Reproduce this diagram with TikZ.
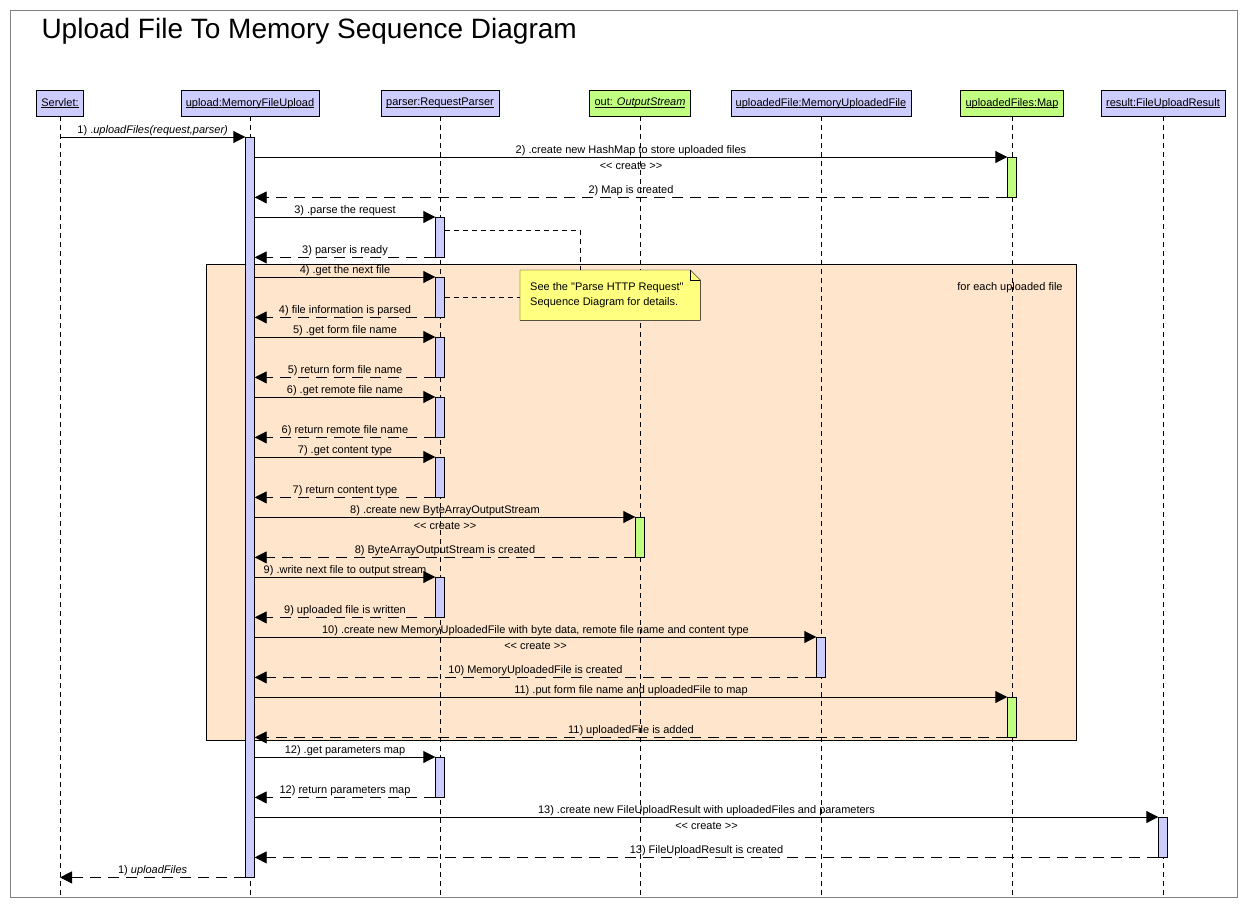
\documentclass[tikz,border=0pt]{standalone}
\usepackage{fontspec}
\setmainfont{Liberation Sans}[Ligatures=TeXOff]
\usetikzlibrary{arrows.meta, calc}

\definecolor{lav}{RGB}{204,204,255}
\definecolor{lime}{RGB}{192,255,128}
\definecolor{peach}{RGB}{255,229,204}
\definecolor{notey}{RGB}{255,255,128}

\newcommand\ulin[1]{\setbox0\hbox{#1}\rlap{\rule[-1.8pt]{\wd0}{0.6pt}}\box0}

\begin{document}
\begin{tikzpicture}[x=1pt, y=-1pt, >={Triangle[length=12pt,width=12pt]},
                    font=\fontsize{11}{13}\selectfont]
\tikzset{
  head/.style={draw, fill=lav, minimum height=26pt, inner xsep=5pt, anchor=north},
  bar/.style={draw, fill=lav, minimum width=9pt, minimum height=40pt,
              inner sep=0pt, anchor=north},
  life/.style={dash pattern=on 5pt off 4pt},
  msg/.style={->, line width=0.9pt},
  ret/.style={->, line width=0.9pt, dash pattern=on 11pt off 7pt},
  lbl/.style={midway, above=0pt, inner sep=1pt},
  crt/.style={midway, below=4pt, inner sep=1pt}
  };

\useasboundingbox (0,0) rectangle (1247,907);
\draw[gray] (10,10) rectangle (1237,897);
\node[anchor=west, font=\fontsize{28}{32}\selectfont] (title) at (38,31)
  {Upload File To Memory Sequence Diagram};

\node[draw, fill=peach, minimum width=870pt, minimum height=476pt,
      anchor=north west] (loop) at (206,264) {};
\node (looplbl) at (1010,288) {for each uploaded file};

\node[head] (servlet) at (60,90)   {\ulin{Servlet:}};
\node[head] (upload)  at (250,90)  {\ulin{upload:MemoryFileUpload}};
\node[head] (parser)  at (440,90)  {\ulin{parser:RequestParser}};
\node[head, fill=lime] (out) at (640,90) {\ulin{out: \textit{OutputStream}}};
\node[head] (ufile)   at (821,90)  {\ulin{uploadedFile:MemoryUploadedFile}};
\node[head, fill=lime] (fmap) at (1012,90) {\ulin{uploadedFiles:Map}};
\node[head] (result)  at (1163,90) {\ulin{result:FileUploadResult}};

\coordinate (bot) at (0,895);
\draw[life] (servlet.south) -- (servlet.south |- bot);
\draw[life] (upload.south)  -- (upload.south |- bot);
\draw[life] (parser.south)  -- (parser.south |- bot);
\draw[life] (out.south)     -- (out.south |- bot);
\draw[life] (ufile.south)   -- (ufile.south |- bot);
\draw[life] (fmap.south)    -- (fmap.south |- bot);
\draw[life] (result.south)  -- (result.south |- bot);

\node[bar, minimum height=740pt] (uact) at (250,137) {};
\node[bar, fill=lime] (m2)  at (1012,157) {};
\node[bar] (p3)  at (440,217) {};
\node[bar] (p4)  at (440,277) {};
\node[bar] (p5)  at (440,337) {};
\node[bar] (p6)  at (440,397) {};
\node[bar] (p7)  at (440,457) {};
\node[bar, fill=lime] (o8) at (640,517) {};
\node[bar] (p9)  at (440,577) {};
\node[bar] (f10) at (821,637) {};
\node[bar, fill=lime] (m11) at (1012,697) {};
\node[bar] (p12) at (440,757) {};
\node[bar] (r13) at (1163,817) {};

\draw[msg] (servlet |- uact.north) -- (uact.north west)
  node[lbl]{1) .\textit{uploadFiles(request,parser)}};

\draw[msg] (uact.east |- m2.north) -- (m2.north west)
  node[lbl]{2) .create new HashMap to store uploaded files} node[crt]{<< create >>};
\draw[ret] (m2.south west) -- (uact.east |- m2.south) node[lbl]{2) Map is created};

\draw[msg] (uact.east |- p3.north) -- (p3.north west) node[lbl]{3) .parse the request};
\draw[ret] (p3.south west) -- (uact.east |- p3.south) node[lbl]{3) parser is ready};

\draw[msg] (uact.east |- p4.north) -- (p4.north west) node[lbl]{4) .get the next file};
\draw[ret] (p4.south west) -- (uact.east |- p4.south) node[lbl]{4) file information is parsed};

\draw[msg] (uact.east |- p5.north) -- (p5.north west) node[lbl]{5) .get form file name};
\draw[ret] (p5.south west) -- (uact.east |- p5.south) node[lbl]{5) return form file name};

\draw[msg] (uact.east |- p6.north) -- (p6.north west) node[lbl]{6) .get remote file name};
\draw[ret] (p6.south west) -- (uact.east |- p6.south) node[lbl]{6) return remote file name};

\draw[msg] (uact.east |- p7.north) -- (p7.north west) node[lbl]{7) .get content type};
\draw[ret] (p7.south west) -- (uact.east |- p7.south) node[lbl]{7) return content type};

\draw[msg] (uact.east |- o8.north) -- (o8.north west)
  node[lbl]{8) .create new ByteArrayOutputStream} node[crt]{<< create >>};
\draw[ret] (o8.south west) -- (uact.east |- o8.south) node[lbl]{8) ByteArrayOutputStream is created};

\draw[msg] (uact.east |- p9.north) -- (p9.north west) node[lbl]{9) .write next file to output stream};
\draw[ret] (p9.south west) -- (uact.east |- p9.south) node[lbl]{9) uploaded file is written};

\draw[msg] (uact.east |- f10.north) -- (f10.north west)
  node[lbl]{10) .create new MemoryUploadedFile with byte data, remote file name and content type}
  node[crt]{<< create >>};
\draw[ret] (f10.south west) -- (uact.east |- f10.south) node[lbl]{10) MemoryUploadedFile is created};

\draw[msg] (uact.east |- m11.north) -- (m11.north west)
  node[lbl]{11) .put form file name and uploadedFile to map};
\draw[ret] (m11.south west) -- (uact.east |- m11.south) node[lbl]{11) uploadedFile is added};

\draw[msg] (uact.east |- p12.north) -- (p12.north west) node[lbl]{12) .get parameters map};
\draw[ret] (p12.south west) -- (uact.east |- p12.south) node[lbl]{12) return parameters map};

\draw[msg] (uact.east |- r13.north) -- (r13.north west)
  node[lbl]{13) .create new FileUploadResult with uploadedFiles and parameters}
  node[crt]{<< create >>};
\draw[ret] (r13.south west) -- (uact.east |- r13.south) node[lbl]{13) FileUploadResult is created};

\draw[ret] (uact.south west) -- (servlet |- uact.south) node[lbl]{1) \textit{uploadFiles}};

\node[minimum width=180pt, minimum height=50pt, inner sep=0pt,
      anchor=north west] (note) at (520,270) {};
\filldraw[fill=notey] (note.north west) -- ([xshift=-10pt]note.north east)
  -- ([yshift=-10pt]note.north east) -- (note.south east) -- (note.south west) -- cycle;
\draw ([xshift=-10pt]note.north east) -- ([xshift=-10pt,yshift=-10pt]note.north east)
  -- ([yshift=-10pt]note.north east);
\node[anchor=west, align=left, inner sep=0pt, font=\fontsize{11}{15}\selectfont]
  (notetxt) at ([xshift=10pt]note.west)
  {See the "Parse HTTP Request"\\Sequence Diagram for details.};

\draw[life] ([yshift=7pt]p3.east) -| ([xshift=60pt]note.north west);
\draw[life] (p4.east) -- (note.west |- p4.east);

\end{tikzpicture}
\end{document}
